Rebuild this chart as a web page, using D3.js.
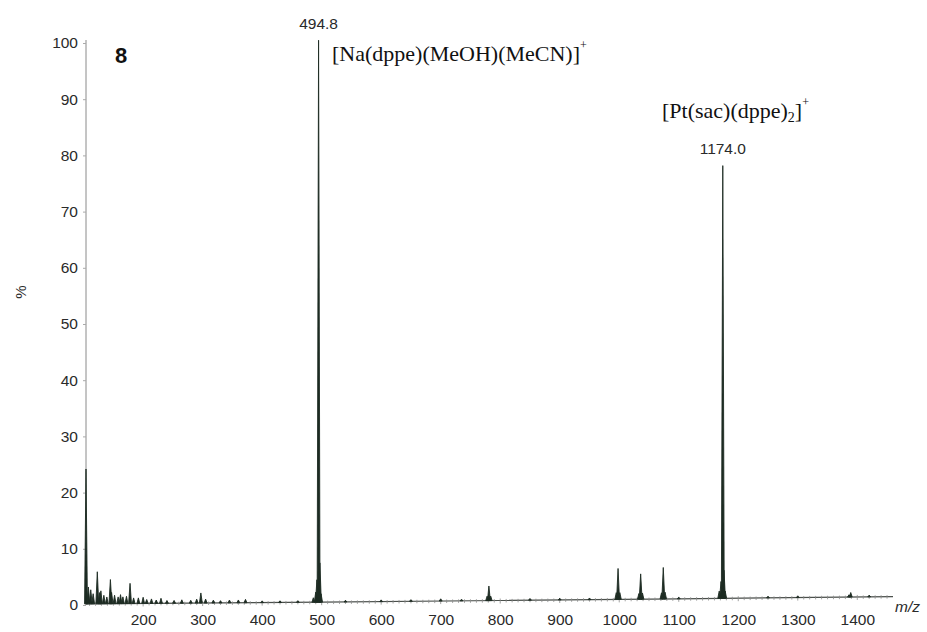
<!DOCTYPE html>
<html>
<head>
<meta charset="utf-8">
<script src="https://cdn.jsdelivr.net/npm/d3@7"></script>
<style>
  html, body { margin: 0; padding: 0; background: #fff; }
  svg { display: block; }
</style>
</head>
<body>
<svg id="chart" width="927" height="632"></svg>
<script>
// ESI mass spectrum of complex 8: m/z (x) vs relative intensity % (y)

// Peak list: m/z positions and intensities above baseline (%)
const peakMz = [
  104, 108, 112, 116, 123, 127, 129, 134, 139, 145, 147, 152, 158, 162, 166,
  172, 178, 184, 192, 200, 206, 214, 222, 230, 240, 252, 265, 280, 290, 297,
  305, 318, 330, 345, 360, 372, 400, 430, 460,
  486, 490, 492, 494.8, 497, 499,
  540, 600, 650, 700, 735, 778, 781, 784, 850, 900, 950,
  995, 998, 1001, 1033, 1036, 1039, 1071, 1074, 1077, 1100,
  1168, 1171, 1174, 1176, 1178, 1250, 1300, 1386, 1389, 1420
];
const peakInt = [
  24, 3, 2.5, 1.8, 5.7, 2, 2.3, 1.5, 1.2, 4.3, 2, 1.5, 1.2, 1.6, 1.2,
  1.3, 3.6, 1, 1.0, 1.1, 0.7, 0.8, 0.6, 0.9, 0.5, 0.5, 0.6, 0.5, 0.7, 1.8,
  0.7, 0.5, 0.4, 0.5, 0.5, 0.6, 0.3, 0.3, 0.3,
  0.8, 1.8, 4, 100, 7, 1.5,
  0.3, 0.3, 0.3, 0.4, 0.3, 0.8, 2.6, 0.8, 0.3, 0.3, 0.3,
  1.2, 5.5, 1.2, 1.0, 4.5, 1.1, 1.1, 5.6, 1.2, 0.3,
  1.3, 3, 77, 5, 1.3, 0.3, 0.3, 0.4, 0.8, 0.3
];

// Slow baseline drift across the scan (%)
const baseMz = [104, 500, 800, 1100, 1460];
const baseLevel = [0.2, 0.5, 0.8, 1.1, 1.5];

// Axis ticks
const xTicks = [200, 300, 400, 500, 600, 700, 800, 900, 1000, 1100, 1200, 1300, 1400];
const yTicks = [0, 10, 20, 30, 40, 50, 60, 70, 80, 90, 100];

// Labelled peaks
const annotMz = [494.8, 1174.0];
const annotText = ["494.8", "1174.0"];

const svg = d3.select("#chart");
const ink = "#1d2b23";
const sans = "'Liberation Sans', Arial, sans-serif";
const serif = "'Liberation Serif', 'Times New Roman', serif";
const fs = 15.5;

const x = d3.scaleLinear().domain([104, 1460]).range([86, 893]);
const y = d3.scaleLinear().domain([0, 100]).range([605, 43]);
const drift = d3.scaleLinear().domain(baseMz).range(baseLevel);

// Y axis
const yAxis = d3.axisLeft(y).tickValues(yTicks).tickSize(3).tickPadding(5);
const gy = svg.append("g").attr("transform", `translate(${x.range()[0]},0)`).call(yAxis);
gy.select(".domain").attr("stroke", "#8a8a8a").attr("d", `M0,${y(0)}V${y(100) - 3}`);
gy.selectAll(".tick line").attr("stroke", "#aaa");
gy.selectAll(".tick text").attr("font-family", sans).attr("font-size", fs).attr("fill", "#2a2a2a");

// X axis labels (the axis line itself follows the spectrum baseline)
const xAxis = d3.axisBottom(x).tickValues(xTicks).tickFormat(d3.format("d"))
  .tickSize(0).tickPadding(9);
const gx = svg.append("g").attr("transform", `translate(0,${y(0)})`).call(xAxis);
gx.select(".domain").remove();
gx.selectAll(".tick text").attr("font-family", sans).attr("font-size", fs).attr("fill", "#2a2a2a");

// baseline / axis line with minor ticks every 10 m/z
const baseLine = d3.line().x(d => x(d)).y(d => y(drift(d)));
svg.append("path")
  .attr("d", baseLine(baseMz))
  .attr("fill", "none").attr("stroke", "#4a4f4b").attr("stroke-width", 1.2);

const minor = d3.range(110, 1451, 10);
svg.append("g").selectAll("line").data(minor).join("line")
  .attr("x1", d => x(d)).attr("x2", d => x(d))
  .attr("y1", d => y(drift(d)) - (d % 100 === 0 ? 2 : 1.5))
  .attr("y2", d => y(drift(d)) + (d % 100 === 0 ? 3 : 2))
  .attr("stroke", "#8c8c8c").attr("stroke-width", 0.8);

// Peaks as narrow triangles rising from the baseline
const halfW = 2.4; // m/z
const peaks = peakMz.map((m, i) => ({ m, v: peakInt[i] }));
svg.append("g").selectAll("path").data(peaks).join("path")
  .attr("d", d => {
    const b0 = y(drift(d.m - halfW)), b1 = y(drift(d.m + halfW));
    return `M${x(d.m - halfW)},${b0}L${x(d.m)},${y(d.v + drift(d.m))}L${x(d.m + halfW)},${b1}Z`;
  })
  .attr("fill", ink).attr("stroke", ink).attr("stroke-width", 0.9)
  .attr("stroke-linejoin", "miter");

// Peak value labels
svg.append("g").selectAll("text").data(annotMz).join("text")
  .attr("x", d => x(d))
  .attr("y", (d, i) => i === 0 ? 29 : 154)
  .attr("text-anchor", "middle")
  .attr("font-family", sans).attr("font-size", fs).attr("fill", "#2a2a2a")
  .text((d, i) => annotText[i]);

// Ion assignments
const t1 = svg.append("text").attr("x", 332).attr("y", 61)
  .attr("font-family", serif).attr("font-size", 22).attr("fill", "#111");
t1.append("tspan").text("[Na(dppe)(MeOH)(MeCN)]");
t1.append("tspan").attr("font-size", 12).attr("dy", -12).text("+");

const t2 = svg.append("text").attr("x", 662).attr("y", 118)
  .attr("font-family", serif).attr("font-size", 22).attr("fill", "#111");
t2.append("tspan").text("[Pt(sac)(dppe)");
t2.append("tspan").attr("font-size", 14).attr("dy", 4).text("2");
t2.append("tspan").attr("dy", -4).text("]");
t2.append("tspan").attr("font-size", 12).attr("dy", -12).text("+");

// Compound number
svg.append("text").attr("x", 115).attr("y", 63)
  .attr("font-family", sans).attr("font-size", 22).attr("font-weight", "bold")
  .attr("fill", "#111").text("8");

// Axis titles
svg.append("text").attr("transform", "translate(26,292) rotate(-90)")
  .attr("text-anchor", "middle")
  .attr("font-family", sans).attr("font-size", 15).attr("fill", "#2a2a2a").text("%");

svg.append("text").attr("x", 895).attr("y", 612)
  .attr("font-family", sans).attr("font-size", 15.5).attr("font-style", "italic")
  .attr("fill", "#2a2a2a").text("m/z");
</script>
</body>
</html>
